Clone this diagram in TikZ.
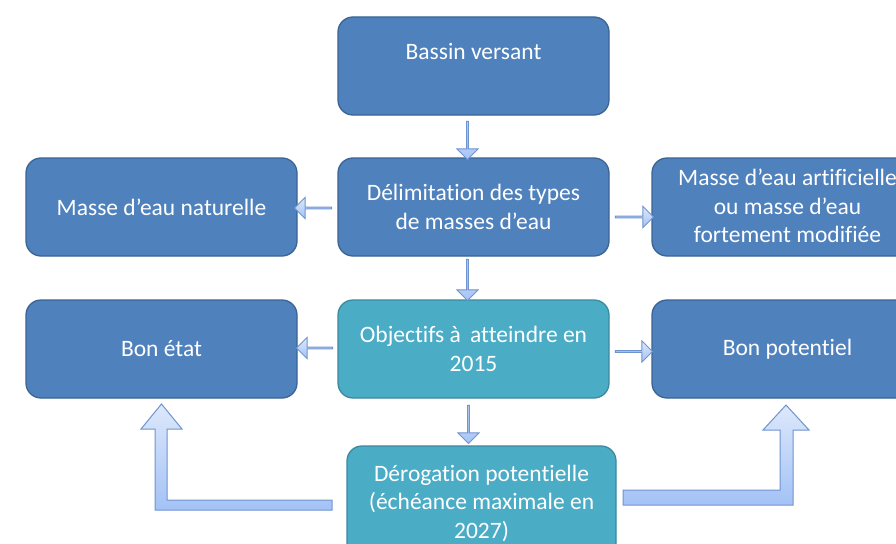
\documentclass[tikz,border=0pt]{standalone}
\usepackage{fontspec}
\setmainfont{Carlito}[Ligatures={NoCommon,NoContextual},Contextuals=NoAlternate]
\usetikzlibrary{shapes.arrows,calc}
\definecolor{boxblue}{HTML}{4F81BD}
\definecolor{boxborder}{HTML}{3A6594}
\definecolor{tealbox}{HTML}{4BACC6}
\definecolor{tealborder}{HTML}{3A8AA0}
\definecolor{arrtop}{HTML}{DDE8FB}
\definecolor{arrbot}{HTML}{A3C2F6}
\definecolor{arrborder}{HTML}{6F94CF}
\begin{document}
\begin{tikzpicture}[x=1pt,y=-1pt,
  flowbox/.style={draw=boxborder,fill=boxblue,line width=1.3pt,rounded corners=15pt,
    minimum width=271pt,minimum height=98pt,inner sep=0pt,align=center,text=white,
    font=\fontsize{23.5}{28.5}\selectfont},
  tealflow/.style={flowbox,draw=tealborder,fill=tealbox},
  blockarr/.style={single arrow,draw=arrborder,line width=1pt,top color=arrtop,bottom color=arrbot,
    inner sep=0pt,minimum width=21pt,single arrow head extend=5pt,single arrow head indent=0pt},
  bentarr/.style={draw=arrborder,line width=1pt,top color=arrtop,bottom color=arrbot}
]
\useasboundingbox (0,0) rectangle (896,543);
\fill[white] (0,0) rectangle (896,543);
\clip (0,0) rectangle (896,543);

% boxes
\node[flowbox] (bv) at (473.5,66) {Bassin versant\\\mbox{}};
\node[flowbox] (nat) at (161.5,207) {Masse d’eau naturelle};
\node[flowbox] (del) at (473.5,207) {Délimitation des types\\de masses d’eau};
\node[flowbox] (art) at (787.5,207) {\mbox{}\\[-14pt]Masse d’eau artificielle\\ou masse d’eau\\fortement modifiée};
\node[flowbox] (bon) at (161.5,349) {Bon état};
\node[tealflow] (obj) at (473.5,349) {Objectifs à\, atteindre en\\2015};
\node[flowbox] (pot) at (787.5,349) {Bon potentiel};
\node[tealflow,minimum width=269pt,minimum height=114pt] (der) at (481.5,503) {Dérogation potentielle\\(échéance maximale en\\2027)};

% small block arrows
\node[blockarr,shape border rotate=270,minimum height=38pt] (a1) at (467.5,140) {};
\node[blockarr,shape border rotate=180,minimum height=37pt] (a2) at (313.5,208) {};
\node[blockarr,shape border rotate=0,minimum height=38pt] (a3) at (634,217) {};
\node[blockarr,shape border rotate=270,minimum height=41pt] (a4) at (467.5,279.5) {};
\node[blockarr,shape border rotate=180,minimum height=36pt] (a5) at (315,348) {};
\node[blockarr,shape border rotate=0,minimum height=37pt] (a6) at (633.5,351.5) {};
\node[blockarr,shape border rotate=270,minimum height=38pt] (a7) at (468.5,424) {};

% bent arrows
\path[bentarr] (332,500) -- (167,500) -- (167,429) -- (182,429) -- (161.5,404) -- (141,429)
  -- (155,429) -- (155,510) -- (332,510) -- cycle;
\path[bentarr] (623,490) -- (780,490) -- (780,430) -- (763,430) -- (786,405) -- (809,430)
  -- (793,430) -- (793,505) -- (623,505) -- cycle;
\end{tikzpicture}
\end{document}
